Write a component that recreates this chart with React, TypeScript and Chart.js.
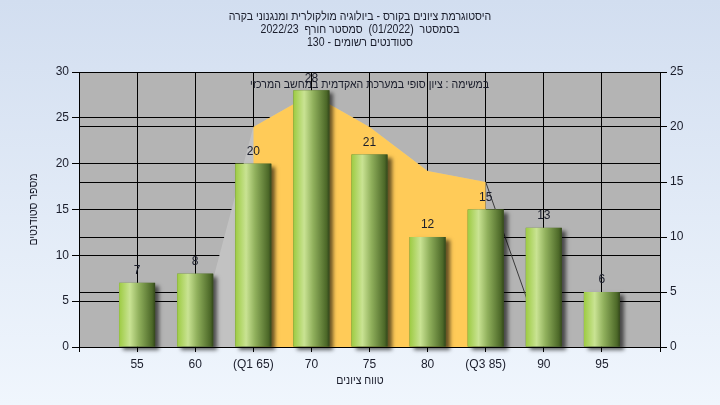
import React, { useEffect, useRef } from 'react';
import { Chart, registerables } from 'chart.js';

Chart.register(...registerables);

// ---- data ----
const xLabels = ['', '55', '60', '(Q1 65)', '70', '75', '80', '(Q3 85)', '90', '95', ''];
const counts: (number | null)[] = [null, 7, 8, 20, 28, 21, 12, 15, 13, 6, null];
const tailArea: (number | null)[] = [null, null, 0, 20, 23, 20, 16, 15, 0, null, null];
const iqrArea: (number | null)[] = [null, null, null, 20, 23, 20, 16, 15, null, null, null];
const leftMax = 30;
const rightMax = 25;
const tickStep = 5;
const titleLines = [
  'היסטוגרמת ציונים בקורס - ביולוגיה מולקולרית ומנגנוני בקרה',
  'בסמסטר  (01/2022)  סמסטר חורף  2022/23',
  'סטודנטים רשומים - 130',
];
const noteText = 'במשימה : ציון סופי במערכת האקדמית במחשב המרכזי';
const yTitle = 'מספר סטודנטים';
const xTitle = 'טווח ציונים';

const FONT = '"Liberation Sans", Arial, sans-serif';
const TEXT = '#1a1d2b';
const SQUEEZE = 0.88;

function drawNarrow(ctx: any, text: string, x: number, y: number) {
  ctx.save();
  ctx.translate(x, y);
  ctx.scale(SQUEEZE, 1);
  ctx.fillText(text, 0, 0);
  ctx.restore();
}

const decorPlugin = {
  id: 'decor',
  beforeDraw(chart: any) {
    const { ctx, width, height, chartArea: a } = chart;
    ctx.save();
    const g = ctx.createLinearGradient(0, 0, 0, height);
    g.addColorStop(0, '#d2def0');
    g.addColorStop(1, '#f0f6fd');
    ctx.fillStyle = g;
    ctx.fillRect(0, 0, width, height);
    ctx.fillStyle = '#b4b4b4';
    ctx.fillRect(a.left, a.top, a.right - a.left, a.bottom - a.top);
    ctx.restore();
  },
  beforeDatasetDraw(chart: any, args: any) {
    if (args.index !== 0) return;
    const ctx = chart.ctx;
    const meta = chart.getDatasetMeta(0);
    meta.data.forEach((el: any, i: number) => {
      if (counts[i] == null) return;
      const { x, y, base, width } = el.getProps(['x', 'y', 'base', 'width'], true);
      if (![x, y, base, width].every((v) => Number.isFinite(v))) return;
      const l = x - width / 2;
      const top = Math.min(y, base);
      const h = Math.abs(base - y);
      ctx.save();
      ctx.shadowColor = 'rgba(0,0,0,0.6)';
      ctx.shadowOffsetX = 4;
      ctx.shadowOffsetY = 3;
      ctx.shadowBlur = 4;
      ctx.fillStyle = '#4c6828';
      ctx.fillRect(l, top, width, h);
      ctx.restore();
      const g = ctx.createLinearGradient(l, 0, l + width, 0);
      g.addColorStop(0, '#9dcb42');
      g.addColorStop(0.3, '#c9e393');
      g.addColorStop(0.55, '#90b05c');
      g.addColorStop(0.92, '#4c6828');
      g.addColorStop(1, '#33461b');
      ctx.save();
      ctx.fillStyle = g;
      ctx.fillRect(l, top, width, h);
      ctx.restore();
    });
    return false;
  },
  afterDatasetsDraw(chart: any) {
    const { ctx, chartArea: a } = chart;
    ctx.save();
    ctx.font = '12px ' + FONT;
    ctx.fillStyle = TEXT;
    ctx.textAlign = 'center';
    ctx.textBaseline = 'middle';
    ctx.direction = 'rtl';
    titleLines.forEach((t, i) => drawNarrow(ctx, t, 360, 17 + i * 13));
    drawNarrow(ctx, noteText, (a.left + a.right) / 2, 85);
    drawNarrow(ctx, xTitle, 360, 381);
    ctx.save();
    ctx.translate(34, (a.top + a.bottom) / 2);
    ctx.rotate(-Math.PI / 2);
    drawNarrow(ctx, yTitle, 0, 0);
    ctx.restore();
    const meta = chart.getDatasetMeta(0);
    meta.data.forEach((el: any, i: number) => {
      const v = counts[i];
      if (v == null) return;
      ctx.fillText(String(v), el.x, el.y - 12);
    });
    ctx.restore();
  },
};

export default function App() {
  const ref = useRef<HTMLCanvasElement | null>(null);
  useEffect(() => {
    if (!ref.current) return;
    const tickFont = { family: FONT, size: 12 };
    const chart = new Chart(ref.current, {
      type: 'bar',
      data: {
        labels: xLabels,
        datasets: [
          {
            type: 'bar',
            data: counts,
            yAxisID: 'y',
            order: 0,
            barThickness: 36,
            backgroundColor: '#9cc84a',
            borderWidth: 0,
            clip: false,
          } as any,
          {
            type: 'line',
            data: iqrArea,
            yAxisID: 'y2',
            order: 1,
            fill: 'origin',
            backgroundColor: '#ffcb58',
            borderWidth: 0,
            borderColor: 'rgba(0,0,0,0)',
            pointRadius: 0,
            tension: 0,
          } as any,
          {
            type: 'line',
            data: tailArea,
            yAxisID: 'y2',
            order: 2,
            fill: 'origin',
            backgroundColor: '#c2c2c2',
            borderWidth: 1,
            borderColor: 'rgba(0,0,0,0)',
            pointRadius: 0,
            tension: 0,
            segment: {
              backgroundColor: (s: any) => (s.p0DataIndex >= 7 ? 'rgba(0,0,0,0)' : '#c2c2c2'),
              borderColor: (s: any) => (s.p0DataIndex >= 7 ? '#3a3a3a' : 'rgba(0,0,0,0)'),
            },
          } as any,
        ],
      },
      options: {
        responsive: false,
        animation: false,
        events: [],
        layout: { padding: { top: 72, left: 0, right: 0, bottom: 0 } },
        plugins: { legend: { display: false }, tooltip: { enabled: false }, title: { display: false } },
        scales: {
          x: {
            type: 'category',
            offset: false,
            grid: { offset: false, color: '#000', lineWidth: 1, tickLength: 5, drawTicks: true },
            border: { color: '#000', width: 1 },
            ticks: { color: TEXT, font: tickFont, padding: 5, autoSkip: false, maxRotation: 0, minRotation: 0 },
            afterFit: (s: any) => { s.height = 58; },
          },
          y: {
            position: 'left',
            min: 0,
            max: leftMax,
            grid: { color: '#000', lineWidth: 1, tickLength: 7 },
            border: { color: '#000', width: 1 },
            ticks: { stepSize: tickStep, color: TEXT, font: tickFont, padding: 3 },
            afterFit: (s: any) => { s.width = 79; },
          },
          y2: {
            position: 'right',
            min: 0,
            max: rightMax,
            grid: { color: '#000', lineWidth: 1, tickLength: 7 },
            border: { color: '#000', width: 1 },
            ticks: { stepSize: tickStep, color: TEXT, font: tickFont, padding: 3 },
            afterFit: (s: any) => { s.width = 60; },
          },
        },
      } as any,
      plugins: [decorPlugin],
    });
    return () => chart.destroy();
  }, []);
  return (
    <div style={{ position: 'fixed', left: 0, top: 0, width: 720, height: 405 }}>
      <canvas ref={ref} width={720} height={405} style={{ display: 'block', width: 720, height: 405 }} />
    </div>
  );
}
